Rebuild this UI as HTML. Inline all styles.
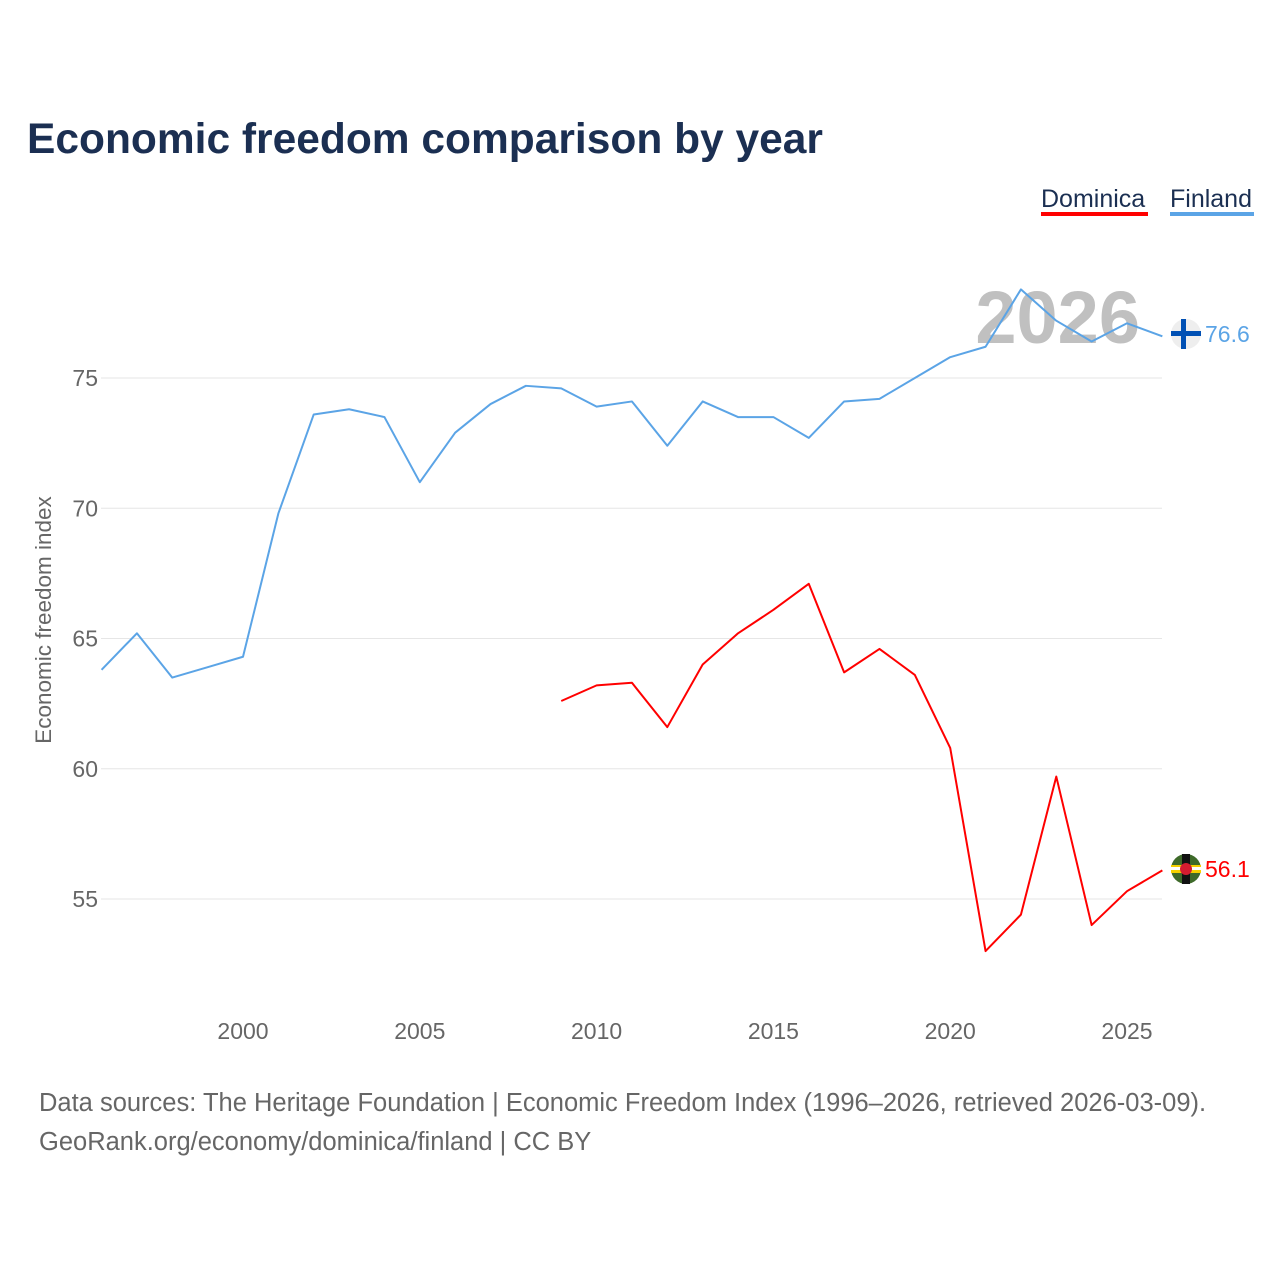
<!DOCTYPE html>
<html><head><meta charset="utf-8"><style>
body{margin:0;background:#fff;font-family:"Liberation Sans",sans-serif;}
</style></head><body>
<svg id="chart" width="1280" height="1280" viewBox="0 0 1280 1280" xmlns="http://www.w3.org/2000/svg">
<text x="27" y="153" font-size="42.5" font-weight="bold" fill="#1b2f52">Economic freedom comparison by year</text>
<g>
<g><text x="1041" y="207" font-size="25" fill="#1b2f52">Dominica</text><rect x="1041" y="212" width="107" height="4" fill="#ff0000"/></g>
<g><text x="1170" y="207" font-size="25" fill="#1b2f52">Finland</text><rect x="1170" y="212" width="84" height="4" fill="#5ba4e6"/></g>
</g>
<text x="1140" y="343" font-size="74" font-weight="bold" fill="#c0c0c0" text-anchor="end">2026</text>
<g id="grid"></g><g id="xticks"></g>
<text transform="translate(51,620) rotate(-90)" font-size="22.5" fill="#666" text-anchor="middle">Economic freedom index</text>
<g id="series"></g>
<g>
<circle cx="1186" cy="334" r="15" fill="#eee"/><rect x="1171" y="331" width="30" height="5" fill="#0050b4"/><rect x="1181" y="319" width="5" height="30" fill="#0050b4"/>
<text x="1205" y="342" font-size="23" fill="#5ba4e6">76.6</text></g>
<g>
<circle cx="1186" cy="869" r="15" fill="#3e6a2a"/><rect x="1171" y="865" width="30" height="8" fill="#f5d000"/><rect x="1182" y="854" width="8" height="30" fill="#111"/><rect x="1171" y="867" width="30" height="3" fill="#fff"/><circle cx="1186" cy="869" r="6" fill="#d41c30"/>
<text x="1205" y="877" font-size="23" fill="#ff0000">56.1</text></g>
<text x="39" y="1111" font-size="25.5" fill="#666">Data sources: The Heritage Foundation | Economic Freedom Index (1996–2026, retrieved 2026-03-09).</text>
<text x="39" y="1150" font-size="25.5" fill="#666">GeoRank.org/economy/dominica/finland | CC BY</text>
</svg>
<script>
const years=[1996,1997,1998,1999,2000,2001,2002,2003,2004,2005,2006,2007,2008,2009,2010,2011,2012,2013,2014,2015,2016,2017,2018,2019,2020,2021,2022,2023,2024,2025,2026];
const finland=[63.8,65.2,63.5,63.9,64.3,69.8,73.6,73.8,73.5,71.0,72.9,74.0,74.7,74.6,73.9,74.1,72.4,74.1,73.5,73.5,72.7,74.1,74.2,75.0,75.8,76.2,78.4,77.2,76.4,77.1,76.6];
const domYears=[2009,2010,2011,2012,2013,2014,2015,2016,2017,2018,2019,2020,2021,2022,2023,2024,2025,2026];
const dominica=[62.6,63.2,63.3,61.6,64.0,65.2,66.1,67.1,63.7,64.6,63.6,60.8,53.0,54.4,59.7,54.0,55.3,56.1];
const yTicks=[55,60,65,70,75];
const xTicks=[2000,2005,2010,2015,2020,2025];
const NS="http://www.w3.org/2000/svg";
const X=y=>243+(y-2000)*35.36;
const Y=v=>378-(v-75)*26.05;
function mk(t,a,p){const e=document.createElementNS(NS,t);for(const k in a)e.setAttribute(k,a[k]);p.appendChild(e);return e;}
const g=document.getElementById('grid');
yTicks.forEach(v=>{
 const l=mk('line',{x1:101,x2:1162,y1:Y(v),y2:Y(v),stroke:'#e6e6e6','stroke-width':1},g);
 
 
 const t=mk('text',{x:98,y:Y(v)+8,'font-size':23,fill:'#666','text-anchor':'end'},g);
 t.textContent=v;
 
 
});
const xg=document.getElementById('xticks');
xTicks.forEach(v=>{
 const t=mk('text',{x:X(v),y:1039,'font-size':23,fill:'#666','text-anchor':'middle'},xg);
 t.textContent=v;
 
 
});
const s=document.getElementById('series');
function line(xs,vs,c,n){
 const p=mk('polyline',{points:xs.map((x,i)=>X(x)+','+Y(vs[i])).join(' '),fill:'none',stroke:c,'stroke-width':2,'stroke-linejoin':'round'},s);
 
 
}
line(years,finland,'#5ba4e6','finland-line');
line(domYears,dominica,'#ff0000','dominica-line');
</script>
</body></html>
